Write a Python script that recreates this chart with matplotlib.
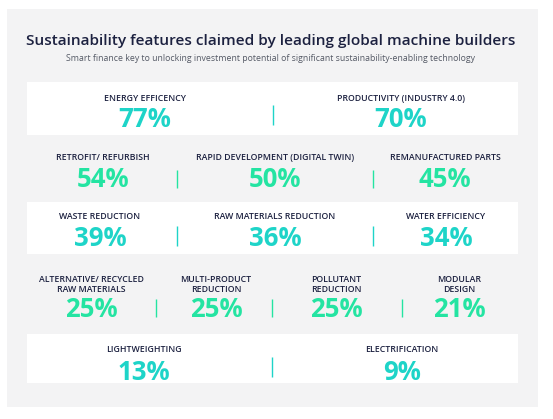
import matplotlib
matplotlib.use("Agg")
import matplotlib.pyplot as plt
from matplotlib.patches import Rectangle

title = "Sustainability features claimed by leading global machine builders"
subtitle = "Smart finance key to unlocking investment potential of significant sustainability-enabling technology"

row1_labels = ["ENERGY EFFICENCY", "PRODUCTIVITY (INDUSTRY 4.0)"]
row1_values = [77, 70]
row2_labels = ["RETROFIT/ REFURBISH", "RAPID DEVELOPMENT (DIGITAL TWIN)", "REMANUFACTURED PARTS"]
row2_values = [54, 50, 45]
row3_labels = ["WASTE REDUCTION", "RAW MATERIALS REDUCTION", "WATER EFFICIENCY"]
row3_values = [39, 36, 34]
row4_labels = ["ALTERNATIVE/ RECYCLED\nRAW MATERIALS", "MULTI-PRODUCT\nREDUCTION", "POLLUTANT\nREDUCTION", "MODULAR\nDESIGN"]
row4_values = [25, 25, 25, 21]
row5_labels = ["LIGHTWEIGHTING", "ELECTRIFICATION"]
row5_values = [13, 9]

W, H = 553, 419
fig = plt.figure(figsize=(W / 100, H / 100), dpi=100)
ax = fig.add_axes([0, 0, 1, 1])
ax.set_xlim(0, W)
ax.set_ylim(H, 0)
ax.axis("off")

PANEL = "#f3f3f4"
CYAN = "#1ed4c8"
GREEN = "#24e4a2"
NAVY = "#1c2140"
GRAY = "#555a66"

ax.add_patch(Rectangle((7, 9), 531, 398, facecolor=PANEL, edgecolor="none"))
ax.text(271, 45.5, title, ha="center", va="baseline", fontsize=11.1, fontweight="semibold",
        color=NAVY, family="Open Sans")
ax.text(271, 61, subtitle, ha="center", va="baseline", fontsize=6.3, color=GRAY, family="Open Sans")

rows = [
    dict(labels=row1_labels, values=row1_values, box=(82, 135), lab_y=100.5, num_y=127,
         centers=[145, 401], divs=[273], div_y=(105, 125), color=CYAN),
    dict(labels=row2_labels, values=row2_values, box=None, lab_y=160, num_y=187,
         centers=[103, 275, 445], divs=[177, 373], div_y=(170, 188), color=GREEN),
    dict(labels=row3_labels, values=row3_values, box=(202, 254), lab_y=219, num_y=245.5,
         centers=[100, 275, 446], divs=[177, 373], div_y=(226, 246), color=CYAN),
    dict(labels=row4_labels, values=row4_values, box=None, lab_y=292, num_y=317,
         centers=[91, 216, 336, 459], divs=[156, 272, 402], div_y=(299, 317), color=GREEN),
    dict(labels=row5_labels, values=row5_values, box=(334, 383), lab_y=352, num_y=380,
         centers=[144, 402], divs=[272], div_y=(357, 377), color=CYAN),
]

for r in rows:
    if r["box"] is not None:
        y0, y1 = r["box"]
        ax.add_patch(Rectangle((27, y0), 491, y1 - y0, facecolor="white", edgecolor="none"))
    for cx, lab, val in zip(r["centers"], r["labels"], r["values"]):
        ax.text(cx, r["lab_y"], lab, ha="center", va="baseline", fontsize=6.3,
                fontweight="semibold", color=NAVY, family="Open Sans", linespacing=1.15)
        ax.text(cx, r["num_y"], f"{val}%", ha="center", va="baseline", fontsize=18.5,
                fontweight="bold", color=r["color"], family="Open Sans")
    for dx in r["divs"]:
        ax.plot([dx, dx], r["div_y"], color=r["color"], lw=1.0, solid_capstyle="butt")

fig.savefig("out.png", dpi=100)
